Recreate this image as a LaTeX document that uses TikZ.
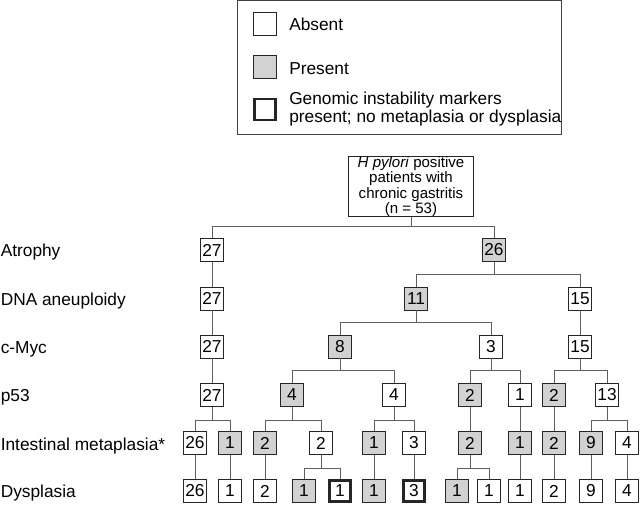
\documentclass[tikz,border=0pt]{standalone}
\usepackage{fontspec}
\setmainfont{Liberation Sans}
\definecolor{boxgray}{RGB}{210,210,210}
\definecolor{linkgray}{RGB}{95,95,95}
\begin{document}
\begin{tikzpicture}[x=0.025cm,y=-0.025cm,
    every node/.style={font=\fontsize{12.3}{14}\selectfont},
    absent/.style={draw=black!85,line width=0.7pt,fill=white,minimum size=0.575cm,inner sep=0pt},
    present/.style={absent,fill=boxgray},
    marker/.style={absent,line width=2.1pt,minimum size=0.525cm},
    link/.style={draw=linkgray,line width=0.7pt},
    rowlabel/.style={anchor=base west,inner sep=0pt}]
  \useasboundingbox (0,0) rectangle (640,505);

  % legend
  \draw[black!75,line width=0.7pt] (237.5,0.5) rectangle (561.5,134);
  \node[absent] (keyabs) at (265,24) {};
  \node[rowlabel] (txtabs) at (289,31) {Absent};
  \node[present] (keypres) at (265,67) {};
  \node[rowlabel] (txtpres) at (289,75) {Present};
  \node[marker] (keymark) at (265,109.5) {};
  \node[anchor=west,inner sep=0pt,align=left,font=\fontsize{12.3}{12.2}\selectfont] (txtmark) at (289,109) {Genomic instability markers\\present; no metaplasia or dysplasia};

  % row labels
  \node[rowlabel] (labatr) at (0.5,257) {Atrophy};
  \node[rowlabel] (labdna) at (0.5,305.5) {DNA aneuploidy};
  \node[rowlabel] (labmyc) at (0.5,353.5) {c-Myc};
  \node[rowlabel] (labp53) at (0.5,402) {p53};
  \node[rowlabel] (labmet) at (0.5,450) {Intestinal metaplasia*};
  \node[rowlabel] (labdys) at (0.5,498) {Dysplasia};

  % tree
  \node[draw=black!85,line width=0.7pt,align=center,inner sep=0pt,minimum width=3.125cm,minimum height=1.475cm,
        font=\fontsize{10.7}{9.9}\selectfont] (root) at (411,186.5)
        {\textit{H pylori} positive\\patients with\\chronic gastritis\\(n = 53)};

  \node[absent] (a1) at (212,250) {27};
  \node[present] (a2) at (494,250) {26};

  \node[absent] (d1) at (212,298.5) {27};
  \node[present] (d2) at (416,298.5) {11};
  \node[absent] (d3) at (580,298.5) {15};

  \node[absent] (c1) at (212,346.5) {27};
  \node[present] (c2) at (340,346.5) {8};
  \node[absent] (c3) at (491,346.5) {3};
  \node[absent] (c4) at (580,346.5) {15};

  \node[absent] (p1) at (212,395) {27};
  \node[present] (p2) at (292,395) {4};
  \node[absent] (p3) at (394,395) {4};
  \node[present] (p4) at (470,395) {2};
  \node[absent] (p5) at (520,395) {1};
  \node[present] (p6) at (554,395) {2};
  \node[absent] (p7) at (607,395) {13};

  \node[absent] (m1) at (195,443) {26};
  \node[present] (m2) at (230,443) {1};
  \node[present] (m3) at (265,443) {2};
  \node[absent] (m4) at (321,443) {2};
  \node[present] (m5) at (374,443) {1};
  \node[absent] (m6) at (414,443) {3};
  \node[present] (m7) at (470,443) {2};
  \node[present] (m8) at (520,443) {1};
  \node[present] (m9) at (554,443) {2};
  \node[present] (m10) at (591,443) {9};
  \node[absent] (m11) at (627,443) {4};

  \node[absent] (y1) at (195,491) {26};
  \node[absent] (y2) at (230,491) {1};
  \node[absent] (y3) at (265,491) {2};
  \node[present] (y4) at (304,491) {1};
  \node[marker] (y5) at (340,491) {1};
  \node[present] (y6) at (374,491) {1};
  \node[marker] (y7) at (414,491) {3};
  \node[present] (y8) at (457,491) {1};
  \node[absent] (y9) at (489,491) {1};
  \node[absent] (y10) at (520,491) {1};
  \node[absent] (y11) at (554,491) {2};
  \node[absent] (y12) at (591,491) {9};
  \node[absent] (y13) at (627,491) {4};

  % branches
  \draw[link] (root.south) -- +(0,9) -| (a1.north);
  \draw[link] (root.south) -- +(0,9) -| (a2.north);
  \draw[link] (a2.south) -- +(0,12) -| (d2.north);
  \draw[link] (a2.south) -- +(0,12) -| (d3.north);
  \draw[link] (d2.south) -- +(0,11.5) -| (c2.north);
  \draw[link] (d2.south) -- +(0,11.5) -| (c3.north);
  \draw[link] (c2.south) -- +(0,11.5) -| (p2.north);
  \draw[link] (c2.south) -- +(0,11.5) -| (p3.north);
  \draw[link] (c3.south) -- +(0,11.5) -| (p4.north);
  \draw[link] (c3.south) -- +(0,11.5) -| (p5.north);
  \draw[link] (c4.south) -- +(0,11.5) -| (p6.north);
  \draw[link] (c4.south) -- +(0,11.5) -| (p7.north);
  \draw[link] (p1.south) -- +(0,13) -| (m1.north);
  \draw[link] (p1.south) -- +(0,13) -| (m2.north);
  \draw[link] (p2.south) -- +(0,13) -| (m3.north);
  \draw[link] (p2.south) -- +(0,13) -| (m4.north);
  \draw[link] (p3.south) -- +(0,13) -| (m5.north);
  \draw[link] (p3.south) -- +(0,13) -| (m6.north);
  \draw[link] (p7.south) -- +(0,13) -| (m10.north);
  \draw[link] (p7.south) -- +(0,13) -| (m11.north);
  \draw[link] (m4.south) -- +(0,13) -| (y4.north);
  \draw[link] (m4.south) -- +(0,13) -| (y5.north);
  \draw[link] (m7.south) -- +(0,13) -| (y8.north);
  \draw[link] (m7.south) -- +(0,13) -| (y9.north);

  % straight links
  \draw[link] (a1) -- (d1) (d1) -- (c1) (c1) -- (p1) (d3) -- (c4);
  \draw[link] (p4) -- (m7) (p5) -- (m8) (p6) -- (m9);
  \draw[link] (m1) -- (y1) (m2) -- (y2) (m3) -- (y3) (m5) -- (y6) (m6) -- (y7);
  \draw[link] (m8) -- (y10) (m9) -- (y11) (m10) -- (y12) (m11) -- (y13);
\end{tikzpicture}
\end{document}
